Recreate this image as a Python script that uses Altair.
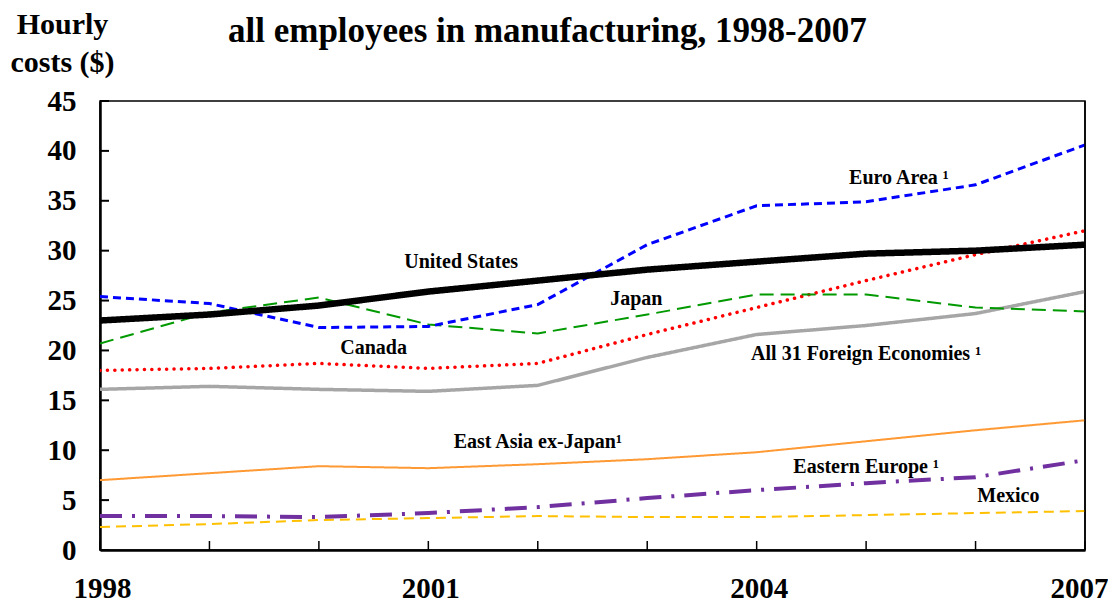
import altair as alt
import pandas as pd

years = [1998, 1999, 2000, 2001, 2002, 2003, 2004, 2005, 2006, 2007]

us = [23.0, 23.6, 24.5, 25.9, 27.0, 28.1, 28.9, 29.7, 30.0, 30.6]
euro = [25.4, 24.7, 22.3, 22.4, 24.6, 30.6, 34.5, 34.9, 36.6, 40.6]
japan = [20.7, 23.8, 25.3, 22.6, 21.7, 23.6, 25.6, 25.6, 24.3, 23.9]
canada = [18.0, 18.2, 18.7, 18.2, 18.7, 21.6, 24.3, 27.0, 29.6, 32.0]
all31 = [16.1, 16.4, 16.1, 15.9, 16.5, 19.3, 21.6, 22.5, 23.7, 25.9]
east_asia = [7.0, 7.7, 8.4, 8.2, 8.6, 9.1, 9.8, 10.9, 12.0, 13.0]
east_europe = [3.4, 3.4, 3.3, 3.7, 4.3, 5.2, 6.0, 6.7, 7.3, 9.0]
mexico = [2.3, 2.6, 3.0, 3.2, 3.4, 3.3, 3.3, 3.5, 3.7, 3.9]

series_names = ["Mexico", "Eastern Europe", "East Asia ex-Japan", "All 31",
                "Canada", "Japan", "Euro Area", "United States"]
series_values = [mexico, east_europe, east_asia, all31, canada, japan, euro, us]
series_colors = ["#FFC000", "#7030A0", "#FF9933", "#A6A6A6",
                 "#FF0000", "#009900", "#0000FF", "#000000"]
series_widths = [2, 4, 2, 3.5, 3.5, 2, 3, 6.5]
series_dash = [[10, 6], [22, 10, 3, 10], [1, 0], [1, 0],
               [0.1, 7.3], [14, 7], [8, 5], [1, 0]]
series_caps = ["butt", "butt", "butt", "butt", "round", "butt", "butt", "butt"]

label_texts = ["Euro Area \u00b9", "United States", "Japan", "Canada",
               "All 31 Foreign Economies \u00b9", "East Asia ex-Japan\u00b9",
               "Eastern Europe \u00b9", "Mexico"]
label_x = [2005.3, 2001.3, 2002.9, 2000.5, 2005.0, 2002.0, 2005.0, 2006.3]
label_y = [37.3, 28.9, 25.2, 20.2, 19.6, 10.8, 8.3, 5.4]

x_label_years = [1998, 2001, 2004, 2007]
y_ticks = [0, 5, 10, 15, 20, 25, 30, 35, 40, 45]

W, H = 985, 449
FONT = "'Liberation Serif', 'Times New Roman', 'DejaVu Serif', serif"

xscale = alt.Scale(domain=[1998, 2007], nice=False, zero=False)
yscale = alt.Scale(domain=[0, 45], nice=False)

layers = []
for name, vals, col, w, dash, cap in zip(series_names, series_values, series_colors,
                                        series_widths, series_dash, series_caps):
    df = pd.DataFrame({"year": years, "value": vals, "series": name})
    layers.append(
        alt.Chart(df).mark_line(color=col, strokeWidth=w, strokeDash=dash, strokeCap=cap,
                                clip=True)
        .encode(
            x=alt.X("year:Q", scale=xscale,
                    axis=alt.Axis(values=x_label_years, format="d", tickSize=0,
                                  labelPadding=24, labelFontSize=29, labelFont=FONT,
                                  labelFontWeight="bold", labelColor="black",
                                  labelAlign=alt.expr("datum.value == 2007 ? 'right' : 'center'"),
                                  labelOffset=alt.expr("datum.value == 2007 ? 23 : 2"),
                                  domainColor="black", domainWidth=2.5, grid=False,
                                  title=None, labelFlush=False)),
            y=alt.Y("value:Q", scale=yscale,
                    axis=alt.Axis(values=y_ticks, tickSize=0, labelPadding=24,
                                  labelFontSize=29, labelFont=FONT, labelFontWeight="bold",
                                  labelColor="black", domainColor="black", domainWidth=2.5,
                                  grid=False,
                                  title=["Hourly", "costs ($)"], titleAngle=0,
                                  titleAlign="center", titleBaseline="top",
                                  titleX=-38, titleY=-92, titleFont=FONT,
                                  titleFontSize=30, titleFontWeight="bold",
                                  titleColor="black", titleLineHeight=38)),
        )
    )

# inward ticks
xt = pd.DataFrame({"year": years})
xticks = alt.Chart(xt).mark_rule(color="black", strokeWidth=1.5).encode(
    x=alt.X("year:Q", scale=xscale), y=alt.value(H), y2=alt.value(H - 9))
yt = pd.DataFrame({"value": y_ticks})
yticks = alt.Chart(yt).mark_rule(color="black", strokeWidth=2).encode(
    y=alt.Y("value:Q", scale=yscale), x=alt.value(0), x2=alt.value(9))

# right border
rb = alt.Chart(pd.DataFrame({"year": [2007]})).mark_rule(color="black", strokeWidth=1.5).encode(
    x=alt.X("year:Q", scale=xscale), y=alt.value(0), y2=alt.value(H))

labels_df = pd.DataFrame({"text": label_texts, "year": label_x, "value": label_y})
labels = alt.Chart(labels_df).mark_text(font=FONT, fontSize=20, fontWeight="bold",
                                        color="black").encode(
    x=alt.X("year:Q", scale=xscale), y=alt.Y("value:Q", scale=yscale), text="text:N")

chart = alt.layer(*layers, xticks, yticks, rb, labels).properties(
    width=W, height=H,
    autosize=alt.AutoSizeParams(type="none"),
    padding={"left": 92, "top": 93, "right": 23, "bottom": 55},
    title=alt.TitleParams("all employees in manufacturing, 1998-2007", anchor="start",
                          frame="group", dx=128, font=FONT, fontSize=35,
                          fontWeight="bold", color="black", offset=-40),
).configure_view(stroke="black", strokeWidth=1.5)

chart.save("out.html", embed_options={"renderer": "svg", "actions": False})
